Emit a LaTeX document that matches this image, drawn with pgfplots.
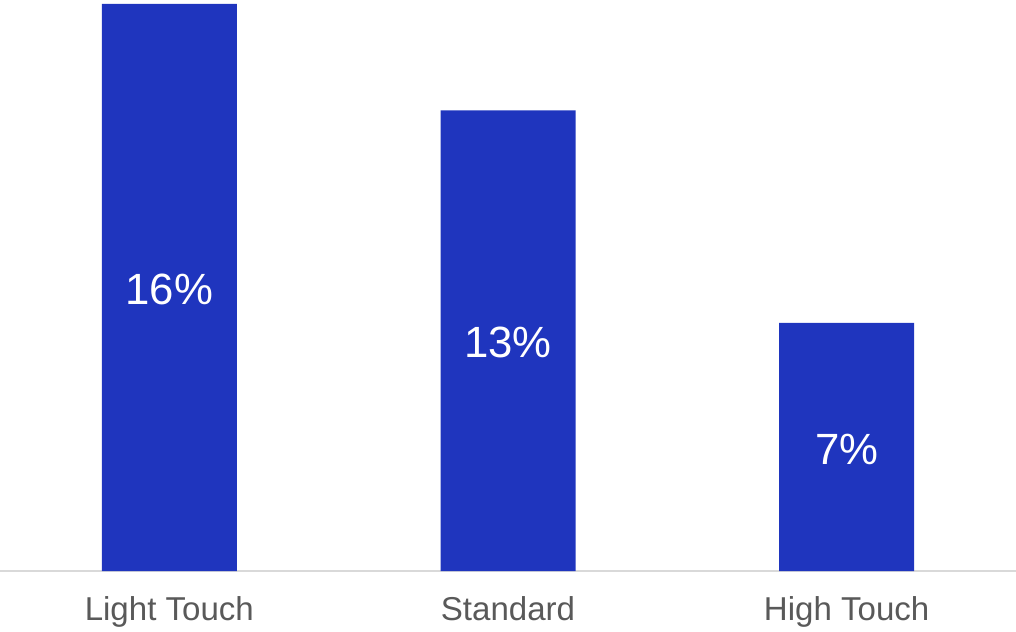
\documentclass[border=0pt]{standalone}
\usepackage{pgfplots}
\pgfplotsset{compat=1.18}
\usepackage{fontspec}
\setmainfont{Liberation Sans}
\definecolor{barblue}{HTML}{1F35BE}
\definecolor{ticktext}{HTML}{595959}
\definecolor{axisgray}{HTML}{D9D9D9}
\begin{document}
\begin{tikzpicture}
\begin{axis}[
  scale only axis,
  width=762pt, height=428.25pt,
  xmin=-0.5, xmax=2.5,
  ymin=0, ymax=16.113,
  axis y line=none,
  axis x line*=bottom,
  x axis line style={draw=axisgray, line width=1.1pt, -},
  xtick=data,
  xticklabels={Light Touch, Standard, High Touch},
  major tick length=0pt,
  xticklabel style={font=\fontsize{24.8}{28}\selectfont, text=ticktext, yshift=-15.5pt},
  ybar, bar width=101.25pt,
  bar shift=0pt,
  /pgf/number format/assume math mode=true,
  visualization depends on=y \as \rawy,
  nodes near coords={\pgfmathprintnumber{\pgfplotspointmeta}\%},
  every node near coord/.append style={shift={(axis direction cs:0,-\rawy/2)}, yshift=-1.5pt, anchor=center, text=white, font=\fontsize{32.8}{38}\selectfont},
]
\addplot[fill=barblue, draw=none] coordinates {(0,16) (1,13) (2,7)};
\end{axis}
\pgfresetboundingbox
\path[use as bounding box] (current axis.south west) ++(0,-45pt) rectangle (current axis.north east);
\end{tikzpicture}
\end{document}
